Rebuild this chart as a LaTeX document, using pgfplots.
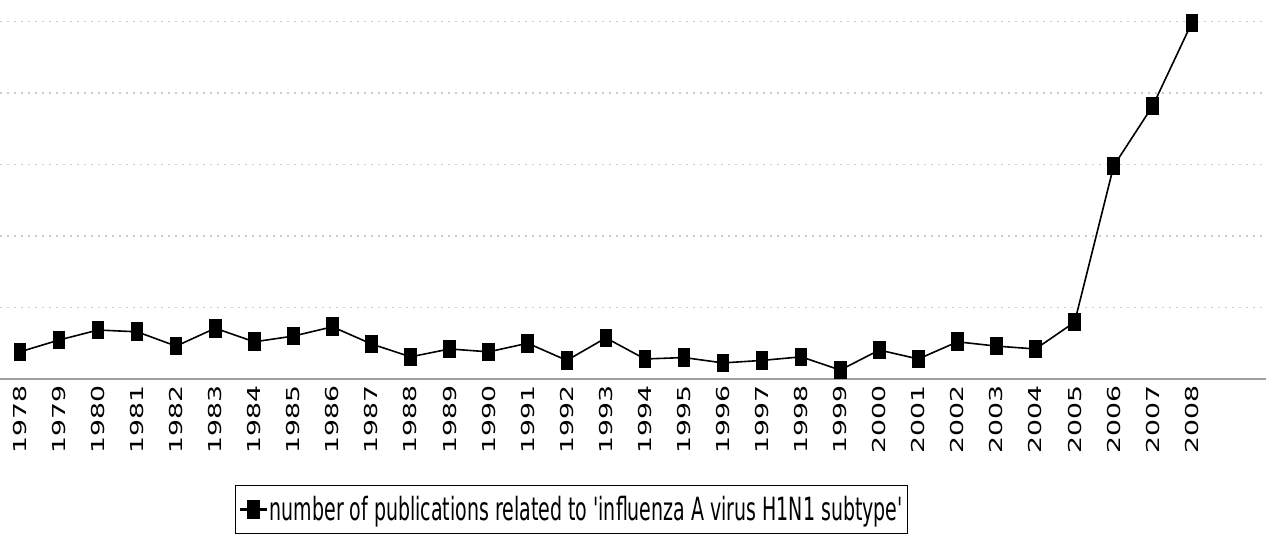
\documentclass[border=0pt]{standalone}
\usepackage{pgfplots}
\pgfplotsset{compat=1.18}
\usepackage{fontspec}
\setmainfont{DejaVu Sans}
\newfontfamily\lf{DejaVu Sans}
\newcommand\yl[1]{\scalebox{1.5}[1]{#1}}
\begin{document}
\begin{tikzpicture}
\begin{axis}[
  at={(0,0)}, anchor=south west,
  scale only axis, width=1266pt, height=379pt,
  xmin=1977.49, xmax=2009.9, ymin=0, ymax=106,
  axis x line*=bottom, axis y line*=left,
  x axis line style={-, draw=gray!75, line width=1.6pt},
  y axis line style={draw=none},
  xtick={1978,...,2008},
  xticklabels={\yl{1978},\yl{1979},\yl{1980},\yl{1981},\yl{1982},\yl{1983},\yl{1984},\yl{1985},\yl{1986},\yl{1987},\yl{1988},\yl{1989},\yl{1990},\yl{1991},\yl{1992},\yl{1993},\yl{1994},\yl{1995},\yl{1996},\yl{1997},\yl{1998},\yl{1999},\yl{2000},\yl{2001},\yl{2002},\yl{2003},\yl{2004},\yl{2005},\yl{2006},\yl{2007},\yl{2008}},
  xticklabel style={rotate=90, anchor=east, font=\fontsize{17.8}{20}\selectfont, inner sep=0pt},
  xticklabel shift=6pt,
  ytick={20,40,60,80,100}, yticklabels={},
  ymajorgrids,
  major grid style={draw=gray!40, line width=1.6pt, dash pattern=on 1.6pt off 5.4pt},
  major tick length=0pt,
  every tick/.style={draw=none},
  clip=false,
  legend style={at={(235/1266,-106/379)}, anchor=north west, draw=black, line width=1.2pt, inner xsep=3pt, inner ysep=9pt, legend cell align=left},
  legend image code/.code={\draw[mark repeat=2,mark phase=2,#1, line width=2.2pt] plot coordinates {(0pt,0pt) (13.5pt,0pt) (27pt,0pt)};},
]
\addplot[black, line width=1.6pt, mark=square*, mark size=5.5pt, mark options={yscale=1.55, solid}] coordinates {
(1978,7.6) (1979,10.9) (1980,13.7) (1981,13.2) (1982,9.2) (1983,14.2) (1984,10.4) (1985,12.0) (1986,14.6)
(1987,9.8) (1988,6.2) (1989,8.4) (1990,7.6) (1991,10.0) (1992,5.2) (1993,11.5) (1994,5.6) (1995,6.0)
(1996,4.5) (1997,5.2) (1998,6.2) (1999,2.5) (2000,8.1) (2001,5.6) (2002,10.4) (2003,9.2) (2004,8.4)
(2005,15.9) (2006,59.6) (2007,76.4) (2008,99.6)};
\addlegendentry{\raisebox{0pt}[\height][40pt]{\scalebox{0.593}[1]{\lf\fontsize{32}{36}\selectfont number of publications related to 'influenza A virus H1N1 subtype'}}}
\end{axis}
\pgfresetboundingbox
\path (0pt,-154pt) rectangle (1266pt,379pt);
\end{tikzpicture}
\end{document}
